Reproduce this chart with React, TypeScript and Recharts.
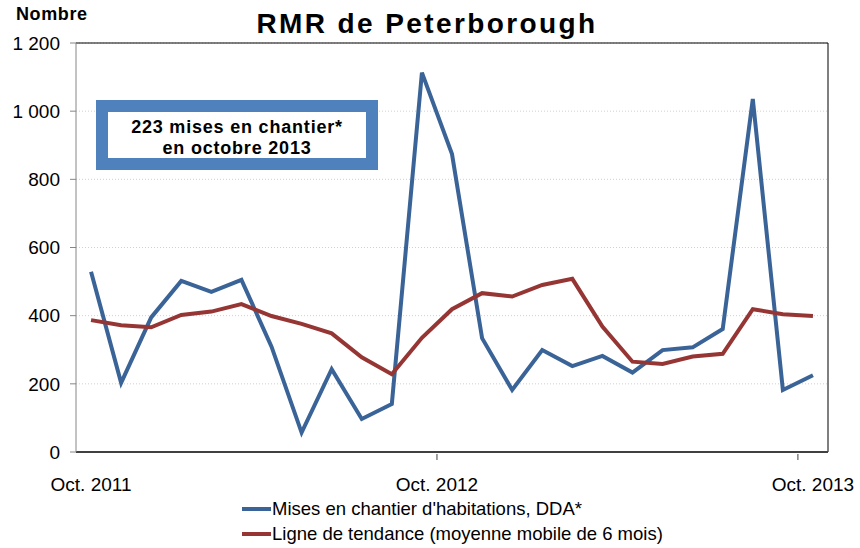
import React from 'react'
import {
  LineChart,
  Line,
  XAxis,
  YAxis,
  CartesianGrid,
  ReferenceLine,
} from 'recharts'

// Oct 2011 .. Oct 2013, monthly
const MONTHS = [
  'Oct. 2011', 'Nov. 2011', 'Déc. 2011', 'Janv. 2012', 'Févr. 2012', 'Mars 2012',
  'Avr. 2012', 'Mai 2012', 'Juin 2012', 'Juil. 2012', 'Août 2012', 'Sept. 2012',
  'Oct. 2012', 'Nov. 2012', 'Déc. 2012', 'Janv. 2013', 'Févr. 2013', 'Mars 2013',
  'Avr. 2013', 'Mai 2013', 'Juin 2013', 'Juil. 2013', 'Août 2013', 'Sept. 2013',
  'Oct. 2013',
]

const STARTS = [
  529, 203, 395, 502, 470, 505, 309, 57, 243, 97, 141, 1113, 874,
  334, 182, 299, 252, 282, 233, 299, 307, 361, 1036, 182, 225,
]

const TREND = [
  387, 372, 366, 402, 412, 434, 399, 376, 348, 278, 228, 335, 419,
  466, 456, 490, 508, 368, 265, 258, 280, 288, 419, 404, 399,
]

const Y_TICKS = [0, 200, 400, 600, 800, 1000, 1200]
// label ticks and tick-mark positions on the category axis
const X_TICKS = [0, 11.5, 23.5, 24]
const X_LABELS: Record<string, string> = { '0': 'Oct. 2011', '11.5': 'Oct. 2012', '24': 'Oct. 2013' }
const X_MARKS = [11.5, 23.5]

const SERIES = [
  { key: 'starts', name: "Mises en chantier d'habitations, DDA*", color: '#3A6497' },
  { key: 'trend', name: 'Ligne de tendance (moyenne mobile de 6 mois)', color: '#963634' },
]

const FONT = '"Liberation Sans", Arial, sans-serif'

const data = MONTHS.map((m, i) => ({ i, month: m, starts: STARTS[i], trend: TREND[i] }))

const fmt = (v: number) => (v >= 1000 ? `${Math.floor(v / 1000)} ${String(v % 1000).padStart(3, '0')}` : String(v))

const XTick = (props: any) => {
  const { x, y, payload } = props
  const label = X_LABELS[String(payload.value)]
  return (
    <g>
      {X_MARKS.includes(payload.value) && <line x1={x} x2={x} y1={y} y2={y + 6} stroke="#404040" strokeWidth={1} />}
      {label && (
        <text x={x} y={y + 37} textAnchor="middle" fill="#000" fontSize={19} fontFamily={FONT}>
          {label}
        </text>
      )}
    </g>
  )
}

export default function App() {
  return (
    <div style={{ position: 'absolute', left: 0, top: 0, width: 860, height: 548, background: '#fff', fontFamily: FONT }}>
      <div style={{ position: 'absolute', left: 16, top: 4, fontSize: 18, fontWeight: 'bold', letterSpacing: 0.6 }}>Nombre</div>
      <div style={{ position: 'absolute', left: 0, width: 854, top: 8, textAlign: 'center', fontSize: 28, fontWeight: 'bold', letterSpacing: 2.4 }}>
        RMR de Peterborough
      </div>
      <LineChart width={860} height={548} data={data} margin={{ top: 43, right: 32, left: 0, bottom: 66 }}>
        <CartesianGrid vertical={false} stroke="#d0d0d0" strokeDasharray="1 2" />
        <XAxis
          dataKey="i"
          type="number"
          domain={[-0.5, 24.5]}
          ticks={X_TICKS}
          interval={0}
          tick={<XTick />}
          tickLine={false}
          tickSize={0}
          height={30}
          axisLine={{ stroke: '#404040', strokeWidth: 2 }}
        />
        <YAxis
          domain={[0, 1200]}
          ticks={Y_TICKS}
          tickFormatter={fmt}
          width={76}
          tickSize={6}
          tickMargin={10}
          axisLine={{ stroke: '#868686' }}
          tickLine={{ stroke: '#868686' }}
          tick={{ fill: '#000', fontSize: 19, fontFamily: FONT }}
        />
        <ReferenceLine y={1200} stroke="#000" strokeWidth={1} />
        <ReferenceLine x={24.5} stroke="#000" strokeWidth={1} />
        {SERIES.map((s) => (
          <Line
            key={s.key}
            dataKey={s.key}
            name={s.name}
            stroke={s.color}
            strokeWidth={4}
            dot={false}
            isAnimationActive={false}
          />
        ))}
      </LineChart>
      <div
        style={{
          position: 'absolute', left: 96, top: 100, width: 258, height: 41,
          border: '12px solid #4F81BD', background: '#fff', fontSize: 18, fontWeight: 'bold',
          textAlign: 'center', lineHeight: '21px', paddingTop: 5, letterSpacing: 0.8, whiteSpace: 'nowrap',
        }}
      >
        223 mises en chantier*
        <br />
        en octobre 2013
      </div>
      <div style={{ position: 'absolute', left: 242, top: 496, fontSize: 18.5 }}>
        {SERIES.map((s) => (
          <div key={s.key} style={{ display: 'flex', alignItems: 'center', height: 25 }}>
            <span style={{ display: 'inline-block', width: 29, height: 4, background: s.color, marginRight: 1 }} />
            {s.name}
          </div>
        ))}
      </div>
    </div>
  )
}
